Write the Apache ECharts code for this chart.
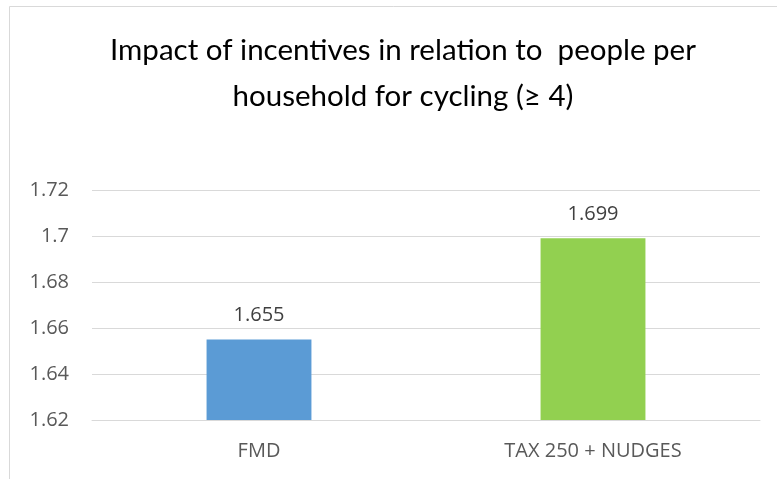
<!DOCTYPE html>
<html>
<head>
<meta charset="utf-8">
<script src="https://cdn.jsdelivr.net/npm/echarts@6/dist/echarts.min.js"></script>
<style>
  html, body { margin: 0; padding: 0; background: #fff; }
  #chart { width: 777px; height: 479px; }
</style>
</head>
<body>
<div id="chart"></div>
<script>
const categories = ['FMD', 'TAX 250 + NUDGES'];
const values = [1.655, 1.699];
const barColors = ['#5b9bd5', '#92d050'];
const yTicks = [1.62, 1.64, 1.66, 1.68, 1.7, 1.72];

const chart = echarts.init(document.getElementById('chart'), null, { renderer: 'canvas' });

const titleFont = 'Lato, "Liberation Sans", sans-serif';
const bodyFont = '"Open Sans", "Noto Sans", sans-serif';

chart.setOption({
  animation: false,
  backgroundColor: '#ffffff',
  graphic: [{
    type: 'rect',
    shape: { x: 9.5, y: 6.5, width: 800, height: 500 },
    style: { fill: 'none', stroke: '#d9d9d9', lineWidth: 1 },
    silent: true
  }],
  title: {
    text: 'Impact of incentives in relation to  people per\nhousehold for cycling (≥ 4)',
    left: 398,
    textAlign: 'center',
    top: 22,
    textStyle: {
      fontFamily: titleFont,
      fontSize: 29.5,
      fontWeight: 'normal',
      color: '#000000',
      lineHeight: 46
    }
  },
  grid: { left: 92, right: 17, top: 190, bottom: 59 },
  xAxis: {
    type: 'category',
    data: categories,
    axisLine: { lineStyle: { color: '#d9d9d9', width: 1 } },
    axisTick: { show: false },
    axisLabel: { fontFamily: bodyFont, fontSize: 20, color: '#595959', margin: 21 }
  },
  yAxis: {
    type: 'value',
    min: yTicks[0],
    max: yTicks[yTicks.length - 1],
    interval: 0.02,
    axisLine: { show: false },
    axisTick: { show: false },
    splitLine: { lineStyle: { color: '#d9d9d9', width: 1 } },
    axisLabel: {
      fontFamily: bodyFont, fontSize: 20, color: '#595959', margin: 23,
      formatter: v => String(+v.toFixed(2))
    }
  },
  series: [{
    type: 'bar',
    barWidth: '31.4%',
    data: values.map((v, i) => ({ value: v, itemStyle: { color: barColors[i] } })),
    label: {
      show: true,
      position: 'top',
      distance: 14,
      fontFamily: bodyFont,
      fontSize: 20,
      color: '#404040',
      formatter: p => p.value.toFixed(3)
    }
  }]
});
</script>
</body>
</html>
